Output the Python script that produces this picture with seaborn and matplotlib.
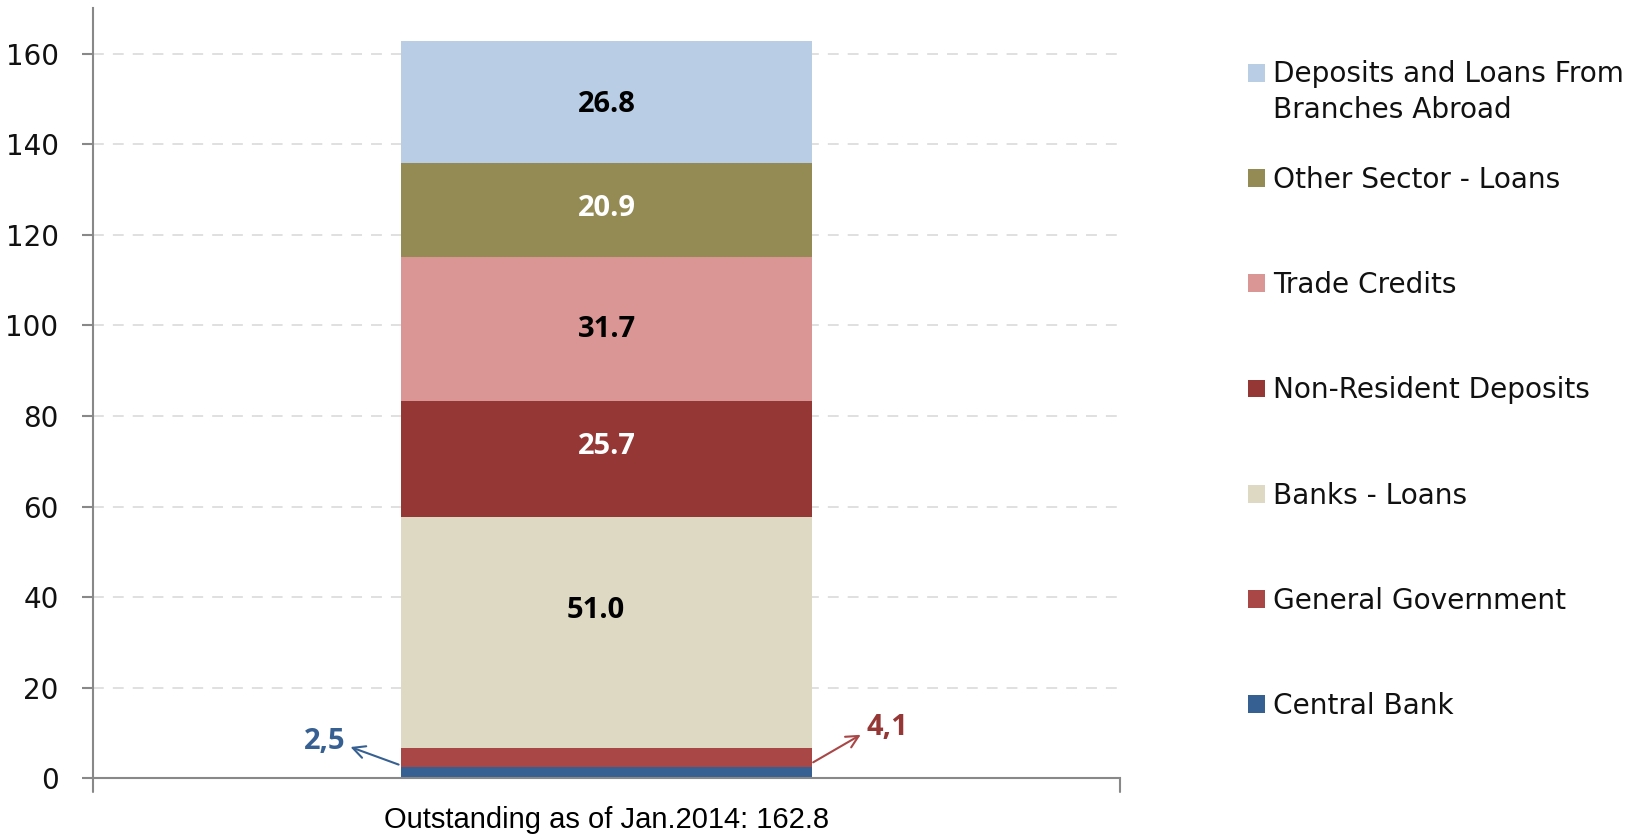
import matplotlib
matplotlib.use("Agg")
import matplotlib.pyplot as plt
import seaborn as sns
import numpy as np
import pandas as pd
from matplotlib.patches import Patch

# ---- data ----
category = ["Outstanding as of Jan.2014: 162.8"]
series = ["Central Bank", "General Government", "Banks - Loans", "Non-Resident Deposits",
          "Trade Credits", "Other Sector - Loans", "Deposits and Loans From\nBranches Abroad"]
values = [2.5, 4.1, 51.0, 25.7, 31.7, 20.9, 26.8]
colors = ["#376092", "#A94646", "#DDD9C3", "#953735", "#D99694", "#948A54", "#B9CDE5"]
label_colors = [None, None, "black", "white", "black", "white", "black"]
label_dy = [0, 0, 5.0, 2.7, 0, 0.4, -0.5]
label_dx = [0, 0, -0.01, 0, 0, 0, 0]
yticks = [0, 20, 40, 60, 80, 100, 120, 140, 160]

sns.set_theme(style="white")
plt.rcParams['font.family'] = ['DejaVu Sans']

fig = plt.figure(figsize=(16.37, 8.35), dpi=100)
ax = fig.add_axes([0.057, 0.068, 0.627, 0.922])

cum = np.cumsum(values)
# draw cumulative bars from the top down so each overlays the next
for i in range(len(values) - 1, -1, -1):
    df = pd.DataFrame({"cat": category, "val": [cum[i]]})
    sns.barplot(data=df, x="cat", y="val", color=colors[i], width=0.4,
                saturation=1, ax=ax, edgecolor="none", linewidth=0)

ax.set_xlim(-0.5, 0.5)
ax.set_ylim(0, 170)
ax.set_yticks(yticks)
ax.set_yticklabels([str(t) for t in yticks], fontsize=20, color="#111111")
ax.set_xlabel("")
ax.set_ylabel("")
ax.set_xticks([0])
ax.set_xticklabels(category, fontsize=21, family="Liberation Sans", color="black")
ax.tick_params(axis="x", length=0, pad=20)
ax.tick_params(axis="y", direction="out", length=8, width=1.5, color="#888888", pad=17, left=True)

for t in yticks[1:]:
    ax.axhline(t, color="#DDDDDD", linestyle=(0, (6, 5)), linewidth=1.3, zorder=0)

for s in ["top", "right"]:
    ax.spines[s].set_visible(False)
ax.spines["left"].set_color("#888888")
ax.spines["left"].set_linewidth(1.5)
ax.spines["bottom"].set_color("#888888")
ax.spines["bottom"].set_linewidth(1.5)
# small end ticks on x axis
for xe in [-0.5, 0.5]:
    ax.plot([xe, xe], [0, -3], color="#888888", lw=1.5, clip_on=False)

# data labels
bottoms = cum - np.array(values)
for i, v in enumerate(values):
    if label_colors[i] is None:
        continue
    ax.text(0 + label_dx[i], bottoms[i] + v / 2 + label_dy[i], f"{v:.1f}",
            ha="center", va="center", fontsize=21, fontweight="bold",
            color=label_colors[i], family="Open Sans")

# small-segment annotations
ax.annotate("", xy=(-0.252, 7.1), xytext=(-0.2, 2.8),
            arrowprops=dict(arrowstyle="->", color="#376092", lw=1.5, mutation_scale=22))
ax.text(-0.254, 8.0, f"{values[0]:.1f}".replace(".", ","), fontsize=21, fontweight="bold",
        color="#376092", family="Open Sans", ha="right", va="center")
ax.annotate("", xy=(0.250, 9.9), xytext=(0.199, 3.2),
            arrowprops=dict(arrowstyle="->", color="#A94646", lw=1.5, mutation_scale=22))
ax.text(0.253, 11.2, f"{values[1]:.1f}".replace(".", ","), fontsize=21, fontweight="bold",
        color="#953735", family="Open Sans", ha="left", va="center")

# legend (first entry's second line placed under its first line, like the reference)
order = list(range(len(values) - 1, -1, -1))
handles = [Patch(facecolor=colors[i], edgecolor="none") for i in order]
first_lines = [series[i].split("\n")[0] for i in order]
leg = fig.legend(handles, first_lines, loc="upper left", bbox_to_anchor=(0.7555, 0.941),
                 frameon=False, fontsize=20.2, labelspacing=2.755, handlelength=0.6,
                 handleheight=0.6, handletextpad=0.3, borderaxespad=0)
for t in leg.get_texts():
    t.set_color("#111111")

fig.canvas.draw()
t0 = leg.get_texts()[0]
bb = t0.get_window_extent()
extra = series[order[0]].split("\n")[1:]
for k, line in enumerate(extra, start=1):
    fig.text(bb.x0 / fig.bbox.width, (bb.y0 - 35.5 * k + bb.height / 2) / fig.bbox.height,
             line, fontsize=20.2, color="#111111", ha="left", va="center")

fig.savefig("out.png", dpi=100)
